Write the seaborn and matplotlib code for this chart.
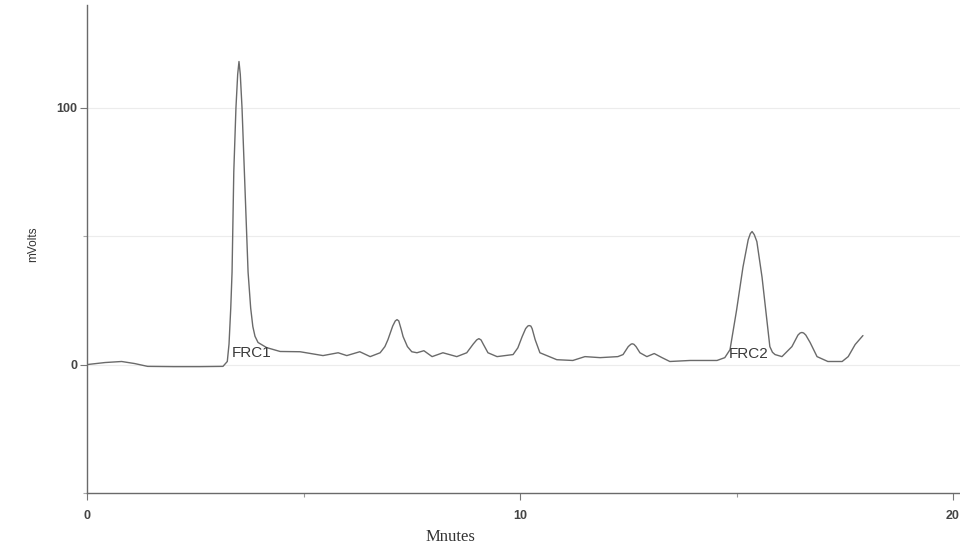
import matplotlib
matplotlib.use("Agg")
import matplotlib.pyplot as plt
from matplotlib.ticker import FixedLocator
import pandas as pd
import seaborn as sns

# Detector trace: retention time (min) and signal (mV)
minutes = [
    0.00, 0.42, 0.80, 1.10, 1.40, 2.00, 2.60, 3.14, 3.24, 3.28,
    3.32, 3.35, 3.39, 3.44, 3.48, 3.51, 3.54, 3.58, 3.65, 3.72,
    3.78, 3.83, 3.88, 3.95, 4.15, 4.46, 4.92, 5.45, 5.80, 6.00,
    6.30, 6.54, 6.77, 6.88, 6.95, 7.06, 7.12, 7.16, 7.20, 7.26,
    7.30, 7.40, 7.50, 7.62, 7.78, 7.97, 8.22, 8.54, 8.77, 8.92,
    9.00, 9.05, 9.10, 9.15, 9.26, 9.47, 9.84, 9.95, 10.05, 10.13,
    10.18, 10.21, 10.25, 10.28, 10.35, 10.46, 10.85, 11.22, 11.50, 11.85,
    12.26, 12.38, 12.50, 12.56, 12.59, 12.63, 12.68, 12.77, 12.93, 13.10,
    13.28, 13.46, 13.93, 14.55, 14.73, 14.85, 15.00, 15.15, 15.27, 15.32,
    15.36, 15.41, 15.47, 15.59, 15.70, 15.77, 15.83, 15.89, 16.05, 16.28,
    16.42, 16.47, 16.51, 16.55, 16.60, 16.70, 16.86, 17.11, 17.44, 17.58,
    17.74, 17.92,
]
millivolts = [
    0.0, 0.8, 1.2, 0.4, -0.7, -0.8, -0.8, -0.7, 1.2, 8.0,
    22.0, 36.0, 75.0, 100.0, 113.0, 118.0, 113.0, 100.0, 68.0, 36.0,
    22.0, 14.8, 11.0, 8.6, 6.6, 5.1, 5.0, 3.5, 4.6, 3.5,
    5.0, 3.1, 4.6, 7.0, 9.7, 15.0, 17.0, 17.5, 17.0, 13.5,
    10.9, 7.0, 5.0, 4.6, 5.4, 3.1, 4.6, 3.1, 4.6, 8.0,
    9.6, 10.1, 9.6, 8.0, 4.6, 3.1, 3.9, 6.5, 10.9, 14.0,
    15.0, 15.2, 15.0, 14.0, 9.7, 4.6, 1.9, 1.6, 3.1, 2.7,
    3.1, 3.9, 7.0, 7.9, 8.1, 7.9, 7.0, 4.6, 3.1, 4.3,
    2.7, 1.2, 1.6, 1.6, 2.7, 5.8, 21.0, 38.0, 48.6, 51.0,
    51.8, 50.6, 47.9, 34.0, 17.5, 7.0, 4.8, 3.9, 3.1, 7.0,
    11.5, 12.3, 12.5, 12.3, 11.5, 8.6, 3.1, 1.2, 1.2, 3.1,
    7.8, 11.3,
]

# Peak annotations
peak_names = ["FRC1", "FRC2"]
peak_label_minutes = [3.35, 14.83]
peak_label_mv = [4.7, 4.3]

# Axis ticks
x_major = [0, 10, 20]
x_minor = [5, 15]
y_major = [0, 100]
y_minor = [-50, 50]
grid_levels = [0, 50, 100]

trace = pd.DataFrame({"Minutes": minutes, "mVolts": millivolts})

sns.set_theme(style="white")
plt.rcParams["font.family"] = ["Liberation Sans", "DejaVu Sans"]

fig = plt.figure(figsize=(9.6, 5.52), dpi=100)
ax = fig.add_axes([87 / 960, 59 / 552, 1 - 87 / 960, (493 - 5) / 552])

for lvl in grid_levels:
    ax.axhline(lvl, color="#ececec", lw=0.8, zorder=0)

sns.lineplot(data=trace, x="Minutes", y="mVolts", ax=ax, color="#6a6a6a",
             lw=1.0, sort=False, estimator=None)

for name, tx, ty in zip(peak_names, peak_label_minutes, peak_label_mv):
    ax.text(tx, ty, name, ha="left", va="center", fontsize=11,
            color="#3a3a3a", family=["Liberation Sans", "DejaVu Sans"])

ax.set_xlim(0, (960 - 87) / 43.3)
ax.set_ylim(-50, 140)

ax.set_xticks(x_major)
ax.set_xticklabels([str(v) for v in x_major], fontweight="bold")
ax.xaxis.set_minor_locator(FixedLocator(x_minor))
ax.set_yticks(y_major)
ax.set_yticklabels([str(v) for v in y_major], fontweight="bold")
ax.yaxis.set_minor_locator(FixedLocator(y_minor))

ax.tick_params(axis="x", which="major", bottom=True, length=5, width=0.8,
               color="#777777", pad=7, labelsize=9, labelcolor="#444444")
ax.tick_params(axis="x", which="minor", bottom=True, length=3, width=0.8,
               color="#999999")
ax.tick_params(axis="y", which="major", left=True, length=5, width=0.8,
               color="#777777", pad=2, labelsize=9, labelcolor="#444444")
ax.tick_params(axis="y", which="minor", left=True, length=3, width=0.8,
               color="#aaaaaa")

for side in ("top", "right"):
    ax.spines[side].set_visible(False)
for side in ("left", "bottom"):
    ax.spines[side].set_color("#6a6a6a")
    ax.spines[side].set_linewidth(1.0)

ax.set_xlabel("")
ax.set_ylabel("")
fig.text(33 / 960, 1 - 244 / 552, "mVolts", rotation=90, ha="center",
         va="center", fontsize=8.5, color="#333333")
fig.text(450 / 960, 1 - 537 / 552, "Mnutes", ha="center", va="center",
         fontsize=12, color="#333333",
         family=["Liberation Serif", "DejaVu Serif"])

fig.savefig("out.png", dpi=100, facecolor="white")
